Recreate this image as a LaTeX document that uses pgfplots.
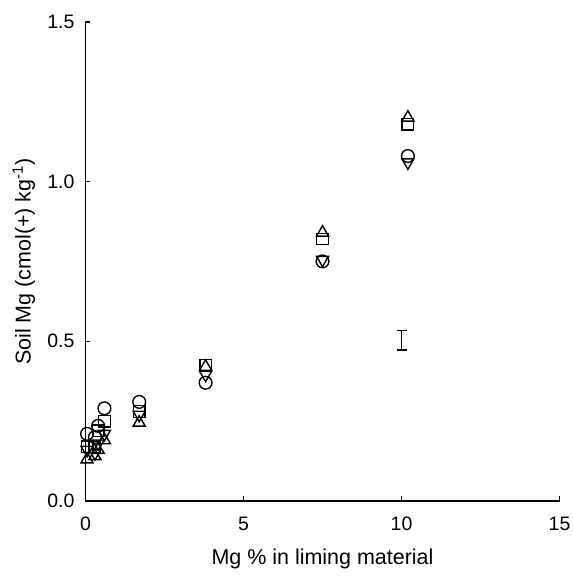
\documentclass[border=0pt]{standalone}
\usepackage{fontspec}
\setmainfont{Liberation Sans}
\usepackage{pgfplots}
\pgfplotsset{compat=1.18}

\begin{document}
\begin{tikzpicture}
\begin{axis}[
  scale only axis,
  width=238.5pt, height=241pt,
  xmin=0, xmax=15, ymin=0, ymax=1.5,
  axis x line*=bottom, axis y line*=left,
  axis line style={-, line width=0.8pt},
  tick align=inside,
  major tick length=2.5pt,
  tick style={line width=0.7pt, black},
  xtick={0,5,10,15}, ytick={0,0.5,1.0,1.5},
  yticklabel style={/pgf/number format/fixed, /pgf/number format/fixed zerofill, /pgf/number format/precision=1, xshift=-2pt},
  xticklabel style={yshift=-4.5pt, inner xsep=0pt},
  /pgf/number format/assume math mode=true,
  tick label style={font=\fontsize{9.8}{11}\selectfont},
  label style={font=\fontsize{10.8}{12}\selectfont},
  xlabel={Mg \% in liming material},
  ylabel={Soil Mg (cmol(+) kg\textsuperscript{-1})},
  xlabel style={at={(axis description cs:0.5,-0.122)}, anchor=center},
  ylabel style={at={(axis description cs:-0.13,0.5)}, anchor=center},
  clip=false,
]
% circles
\addplot[only marks, mark=o, mark size=3.2pt, line width=0.7pt] coordinates {
(0.05,0.21) (0.3,0.20) (0.4,0.235) (0.6,0.29) (1.7,0.31) (3.8,0.37) (7.5,0.75) (10.2,1.08)};
% squares
\addplot[only marks, mark=square, mark size=2.9pt, line width=0.7pt] coordinates {
(0.05,0.17) (0.3,0.17) (0.4,0.22) (0.6,0.25) (1.7,0.28) (3.8,0.425) (7.5,0.82) (10.2,1.18)};
% triangles
\addplot[only marks, mark=triangle, mark size=3.5pt, line width=0.7pt] coordinates {
(0.05,0.13) (0.3,0.14) (0.4,0.16) (0.6,0.19) (1.7,0.245) (3.8,0.42) (7.5,0.84) (10.2,1.20)};
% inverted triangles
\addplot[only marks, mark=triangle, mark size=3.5pt, mark options={rotate=180}, line width=0.7pt] coordinates {
(0.05,0.16) (0.3,0.15) (0.4,0.18) (0.6,0.21) (1.7,0.27) (3.8,0.395) (7.5,0.755) (10.2,1.06)};
% error bar
\addplot[draw=none, mark=none,
  error bars/.cd, y dir=both, y explicit, error mark=-,
  error bar style={line width=0.7pt, black, solid},
  error mark options={rotate=90, line width=0.7pt, mark size=2.5pt, black, draw=black}]
  coordinates {(10,0.503) +- (0,0.031)};
\end{axis}
\path (current axis.south west) ++(-43pt,-35pt) rectangle ++(288pt,287pt);
\end{tikzpicture}
\end{document}
